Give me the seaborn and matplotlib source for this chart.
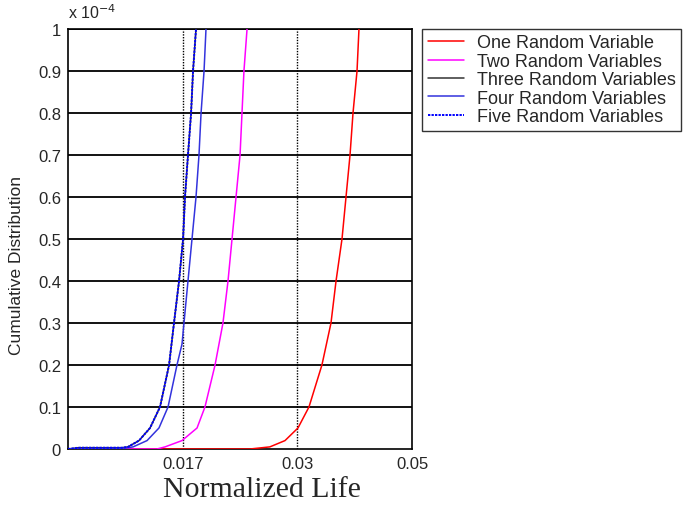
import numpy as np
import pandas as pd
import seaborn as sns
import matplotlib
matplotlib.use("Agg")
from matplotlib import pyplot as plt

# x values are in tick units (tick 1 = 0.017, tick 2 = 0.03, tick 3 = 0.05)
# y values are cumulative distribution in units of 1e-4
one_x = [0, 1.587, 1.76, 1.892, 2.005, 2.101, 2.214, 2.293, 2.337, 2.389, 2.424, 2.459, 2.485, 2.520, 2.537]
one_y = [0, 0, 0.005, 0.02, 0.05, 0.1, 0.2, 0.3, 0.4, 0.5, 0.6, 0.7, 0.8, 0.9, 1.0]

two_x = [0, 0.776, 0.846, 0.994, 1.125, 1.194, 1.282, 1.351, 1.395, 1.430, 1.465, 1.500, 1.517, 1.534, 1.561]
two_y = [0, 0, 0.005, 0.02, 0.05, 0.1, 0.2, 0.3, 0.4, 0.5, 0.6, 0.7, 0.8, 0.9, 1.0]

three_x = [0, 0.09, 0.47, 0.523, 0.619, 0.715, 0.802, 0.881, 0.924, 0.968, 1.003, 1.020, 1.046, 1.073, 1.090, 1.116]
three_y = [0, 0.003, 0.003, 0.005, 0.02, 0.05, 0.1, 0.2, 0.3, 0.4, 0.5, 0.6, 0.7, 0.8, 0.9, 1.0]

four_x = [0, 0.497, 0.567, 0.689, 0.793, 0.872, 0.950, 0.994, 1.011, 1.046, 1.081, 1.116, 1.142, 1.160, 1.186, 1.203]
four_y = [0, 0.002, 0.005, 0.02, 0.05, 0.1, 0.2, 0.25, 0.3, 0.4, 0.5, 0.6, 0.7, 0.8, 0.9, 1.0]

five_x = [0, 0.09, 0.471, 0.523, 0.619, 0.715, 0.802, 0.881, 0.924, 0.968, 1.003, 1.020, 1.046, 1.073, 1.090, 1.116]
five_y = [0, 0.003, 0.003, 0.005, 0.02, 0.05, 0.1, 0.2, 0.3, 0.4, 0.5, 0.6, 0.7, 0.8, 0.9, 1.0]

names = ["One Random Variable", "Two Random Variables", "Three Random Variables",
         "Four Random Variables", "Five Random Variables"]
colors = ["red", "magenta", "#333333", "#3333dd", "blue"]
x_ticks = [1, 2, 3]
x_labels = ["0.017", "0.03", "0.05"]
y_ticks = [0, 0.1, 0.2, 0.3, 0.4, 0.5, 0.6, 0.7, 0.8, 0.9, 1]
y_labels = ["0", "0.1", "0.2", "0.3", "0.4", "0.5", "0.6", "0.7", "0.8", "0.9", "1"]

sns.set_style("white")
plt.rcParams["font.family"] = ["Liberation Sans", "DejaVu Sans"]

fig = plt.figure(figsize=(6.9, 5.06), dpi=100)
ax = fig.add_axes([0.0986, 0.1107, 0.4986, 0.83])

# grid first so the curves sit on top
for yv in y_ticks[1:]:
    ax.axhline(yv, color="black", lw=1.3, zorder=1)
for xv in x_ticks[:-1]:
    ax.axvline(xv, color="black", lw=1.0, ls=(0, (1, 1)), zorder=1)

series = [(one_x, one_y), (two_x, two_y), (three_x, three_y), (four_x, four_y), (five_x, five_y)]
for i, (xs, ys) in enumerate(series):
    df = pd.DataFrame({"x": xs, "y": ys})
    ls = (0, (1.2, 0.6)) if i == 4 else "-"
    lw = 1.4 if i == 4 else 1.1
    sns.lineplot(data=df, x="x", y="y", ax=ax, color=colors[i], lw=lw, ls=ls,
                 sort=False, estimator=None, label=names[i], zorder=3 + i)

ax.set_xlim(0, 3)
ax.set_ylim(0, 1)
ax.set_xticks(x_ticks)
ax.set_xticklabels(x_labels, fontsize=12)
ax.set_yticks(y_ticks)
ax.set_yticklabels(y_labels, fontsize=12)
ax.tick_params(axis="both", length=3, direction="in", color="black", pad=5)
for s in ax.spines.values():
    s.set_color("black")
    s.set_linewidth(1.2)

ax.set_xlabel("Normalized Life", fontsize=21.5, family="Liberation Serif")
ax.xaxis.set_label_coords(0.565, -0.065, transform=ax.transAxes)
ax.xaxis.label.set_va("top")
ax.set_ylabel("Cumulative Distribution", fontsize=12.5, ha="center", va="center")
ax.yaxis.set_label_coords(-0.151, 0.44, transform=ax.transAxes)
ax.text(0.0, 1.02, r"x 10$^{-4}$", transform=ax.transAxes, fontsize=11.5, va="bottom")

leg = ax.legend(loc="upper left", bbox_to_anchor=(1.03, 1.0), fontsize=13,
                frameon=True, fancybox=False, handlelength=2.0, borderpad=0.3,
                labelspacing=0.08, handletextpad=0.7, borderaxespad=0)
leg.get_frame().set_edgecolor("black")
leg.get_frame().set_linewidth(1.0)

fig.savefig("out.png", dpi=100)
